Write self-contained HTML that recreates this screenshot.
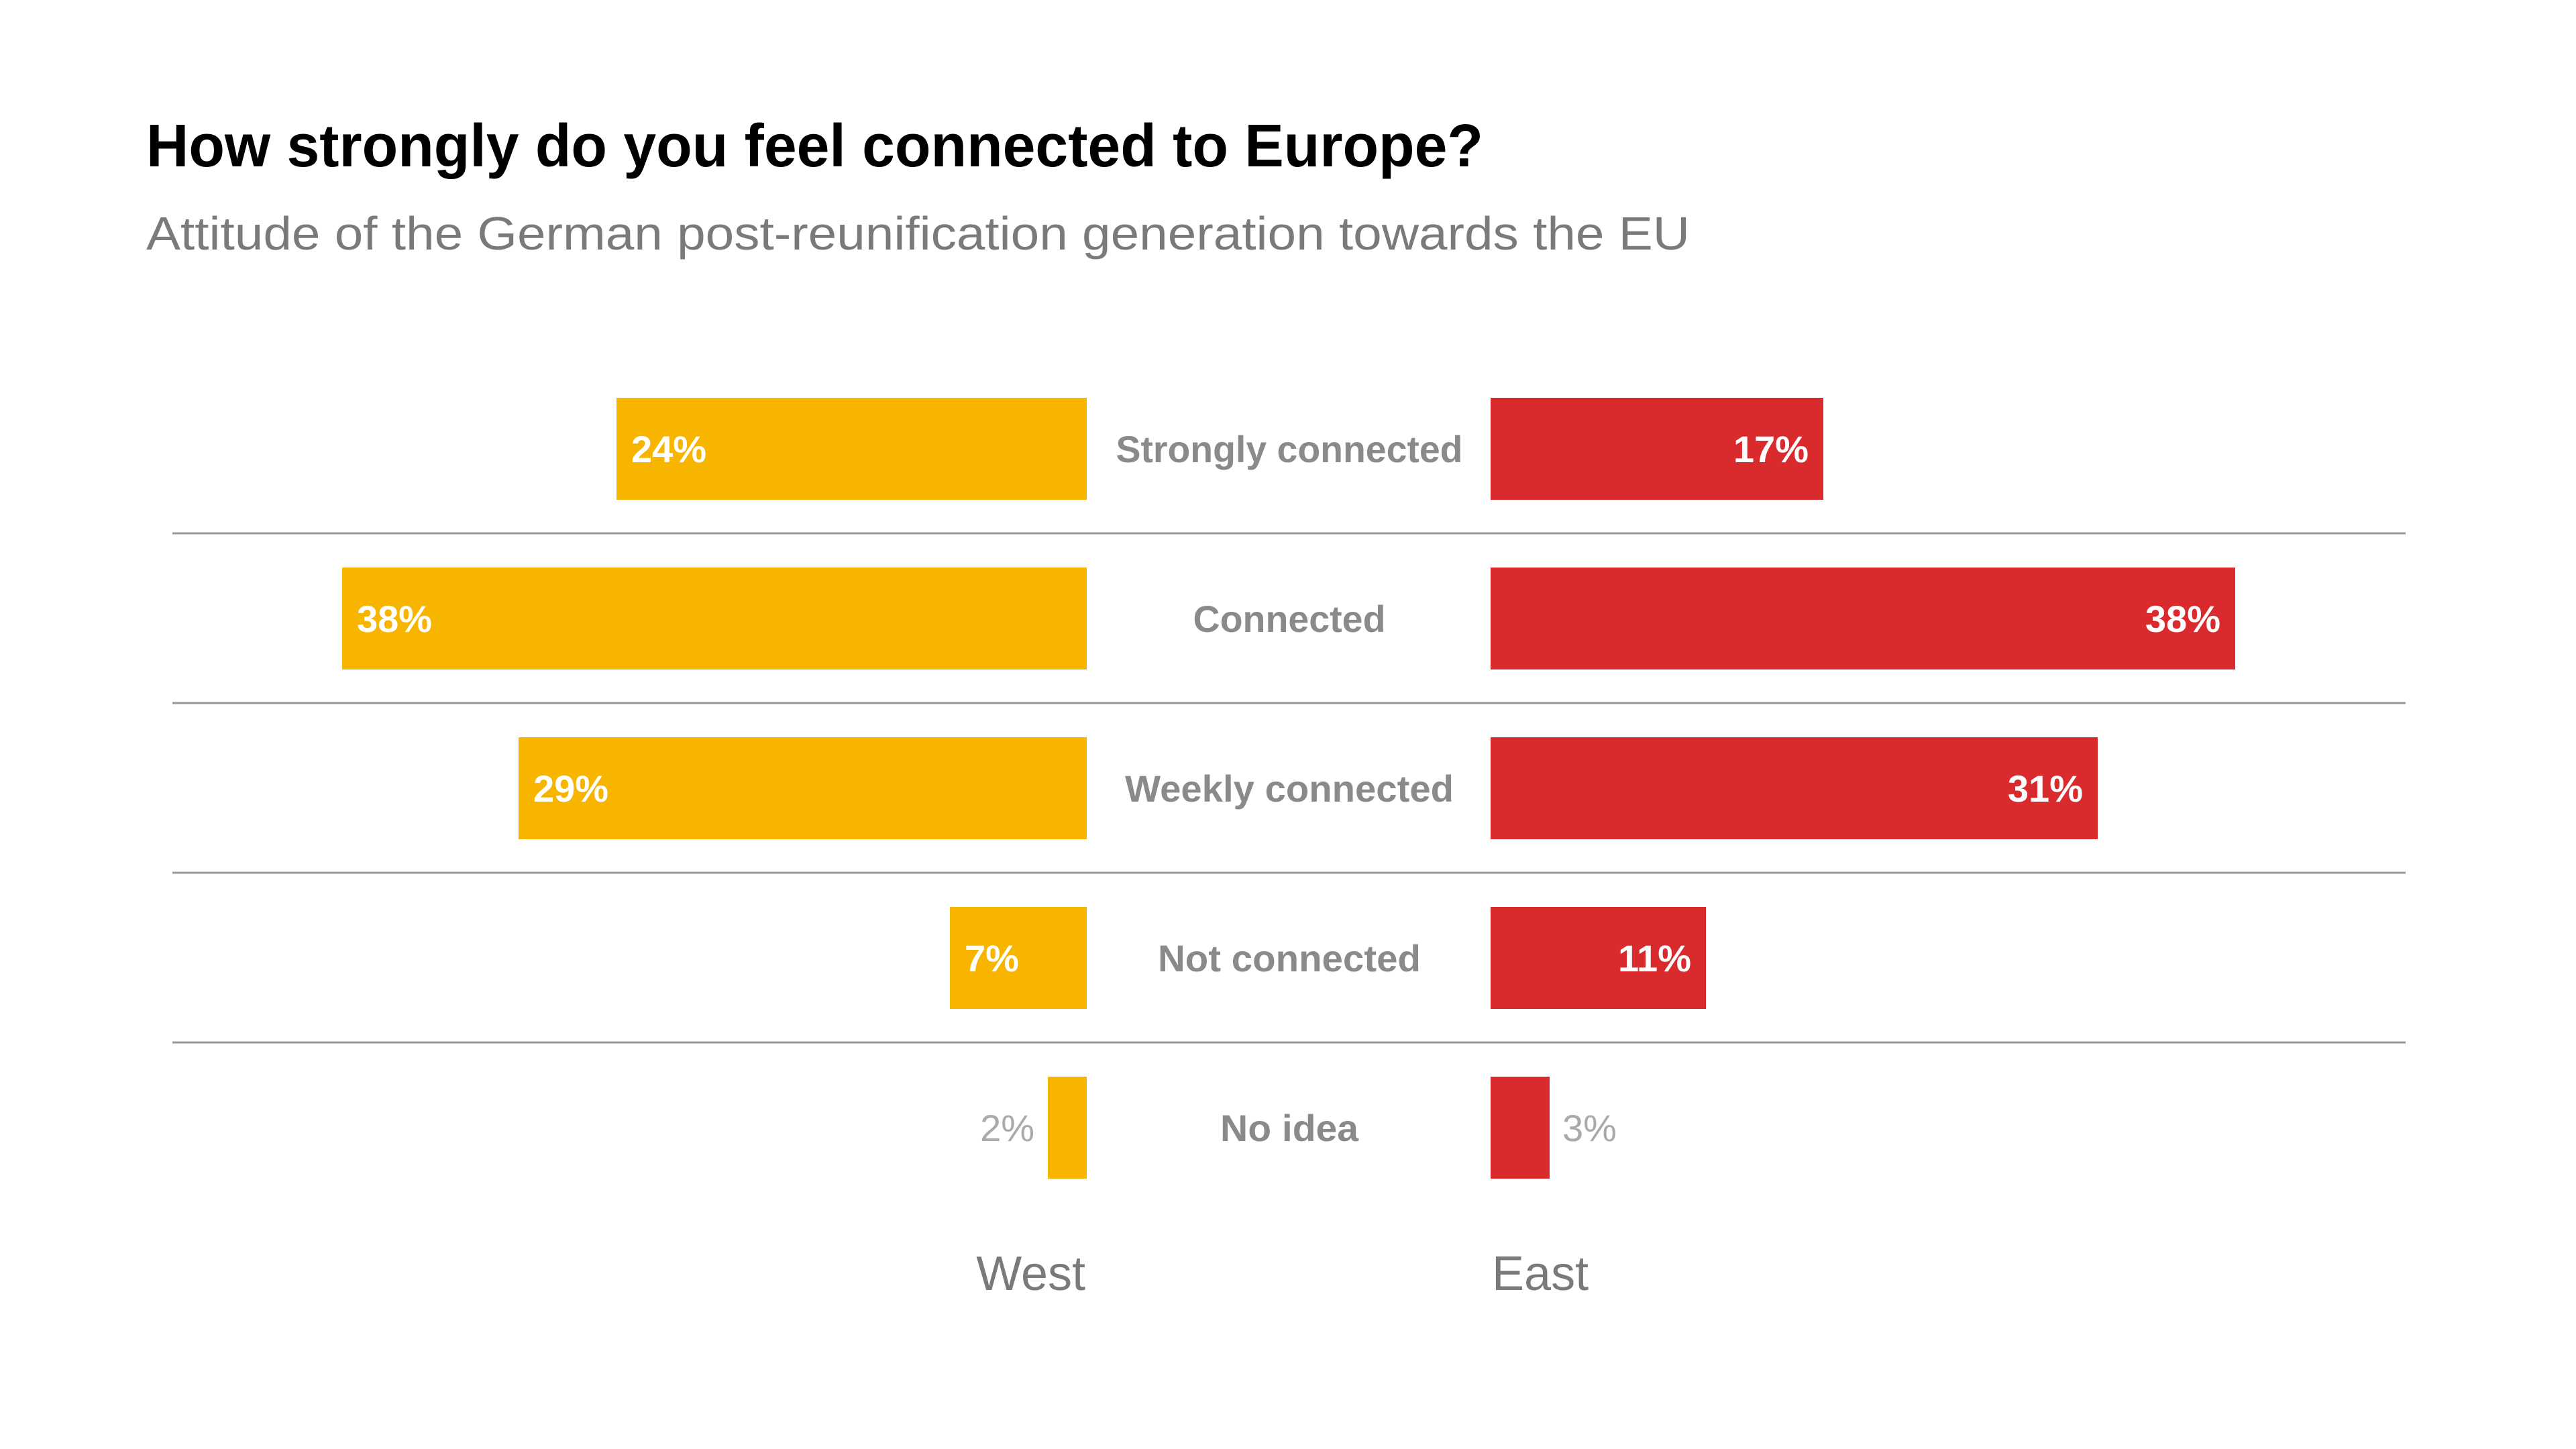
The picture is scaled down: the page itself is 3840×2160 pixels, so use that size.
<!DOCTYPE html>
<html><head><meta charset="utf-8"><style>
html,body{margin:0;padding:0;background:#fff;}
svg{display:block;}
text{font-family:"Liberation Sans",sans-serif;}
</style></head><body>
<svg width="3840" height="2160" viewBox="0 0 3840 2160" xmlns="http://www.w3.org/2000/svg">
<rect width="3840" height="2160" fill="#fff"/>
<text x="218" y="248" font-size="90" font-weight="bold" fill="#000" textLength="1993" lengthAdjust="spacingAndGlyphs">How strongly do you feel connected to Europe?</text>
<text x="218" y="372" font-size="70" fill="#7a7a7a" textLength="2301" lengthAdjust="spacingAndGlyphs">Attitude of the German post-reunification generation towards the EU</text>
<g stroke="#999" stroke-width="3">
<line x1="257" y1="795" x2="3586" y2="795"/>
<line x1="257" y1="1048" x2="3586" y2="1048"/>
<line x1="257" y1="1301" x2="3586" y2="1301"/>
<line x1="257" y1="1554" x2="3586" y2="1554"/>
</g>
<g fill="#F7B500">
<rect x="919" y="593" width="701" height="152"/>
<rect x="510" y="846" width="1110" height="152"/>
<rect x="773" y="1099" width="847" height="152"/>
<rect x="1416" y="1352" width="204" height="152"/>
<rect x="1562" y="1605" width="58" height="152"/>
</g>
<g fill="#D92B2D">
<rect x="2222" y="593" width="496" height="152"/>
<rect x="2222" y="846" width="1110" height="152"/>
<rect x="2222" y="1099" width="905" height="152"/>
<rect x="2222" y="1352" width="321" height="152"/>
<rect x="2222" y="1605" width="88" height="152"/>
</g>
<g font-size="56" font-weight="bold" fill="#fff">
<text x="941" y="689">24%</text>
<text x="532" y="942">38%</text>
<text x="795" y="1195">29%</text>
<text x="1438" y="1448">7%</text>
<text x="2696" y="689" text-anchor="end">17%</text>
<text x="3310" y="942" text-anchor="end">38%</text>
<text x="3105" y="1195" text-anchor="end">31%</text>
<text x="2521" y="1448" text-anchor="end">11%</text>
</g>
<g font-size="56" fill="#aaa">
<text x="1542" y="1701" text-anchor="end">2%</text>
<text x="2329" y="1701">3%</text>
</g>
<g font-size="56" font-weight="bold" fill="#8a8a8a" text-anchor="middle">
<text x="1922" y="689" textLength="517" lengthAdjust="spacingAndGlyphs">Strongly connected</text>
<text x="1922" y="942" textLength="287" lengthAdjust="spacingAndGlyphs">Connected</text>
<text x="1922" y="1195" textLength="490" lengthAdjust="spacingAndGlyphs">Weekly connected</text>
<text x="1922" y="1448" textLength="392" lengthAdjust="spacingAndGlyphs">Not connected</text>
<text x="1922" y="1701" textLength="206" lengthAdjust="spacingAndGlyphs">No idea</text>
</g>
<g font-size="72" fill="#7a7a7a">
<text x="1618" y="1923" text-anchor="end">West</text>
<text x="2224" y="1923">East</text>
</g>
</svg>
</body></html>
